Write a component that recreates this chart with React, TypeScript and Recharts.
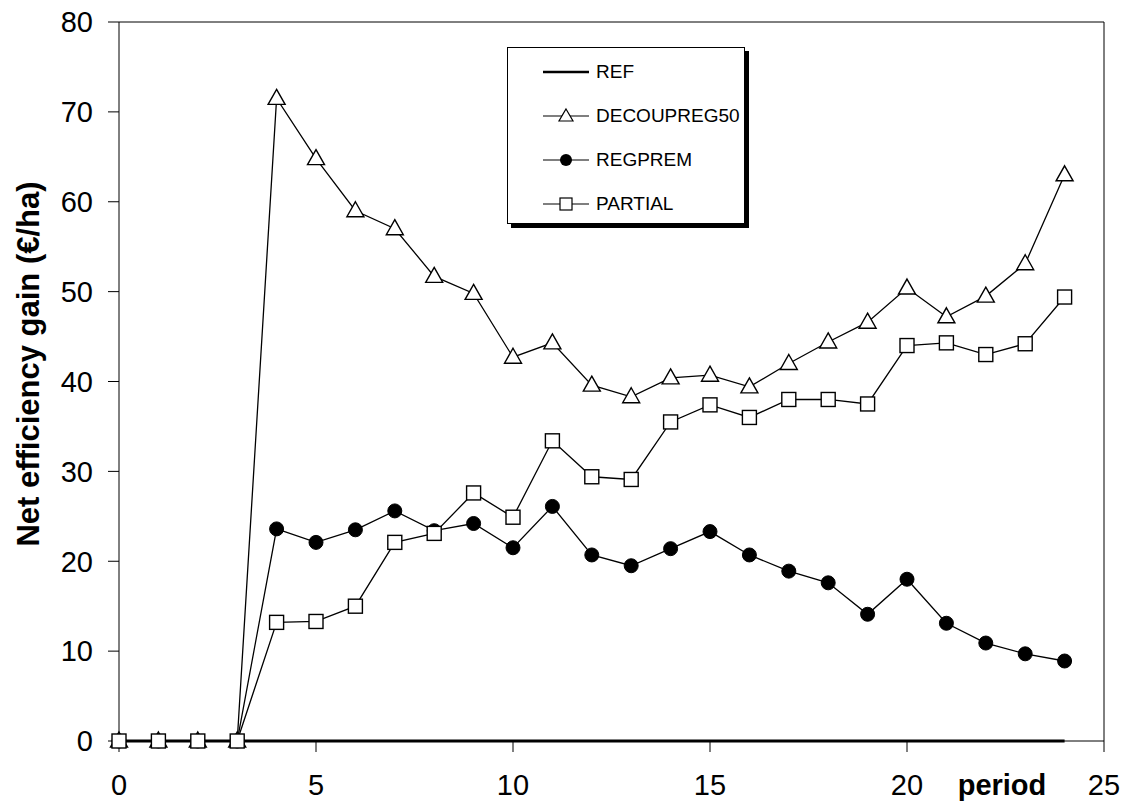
import React from 'react';
import { LineChart, Line, XAxis, YAxis, ReferenceLine } from 'recharts';

const periods = [0, 1, 2, 3, 4, 5, 6, 7, 8, 9, 10, 11, 12, 13, 14, 15, 16, 17, 18, 19, 20, 21, 22, 23, 24];
const ref = [0, 0, 0, 0, 0, 0, 0, 0, 0, 0, 0, 0, 0, 0, 0, 0, 0, 0, 0, 0, 0, 0, 0, 0, 0];
const decoupreg50 = [0, 0, 0, 0, 71.5, 64.8, 59, 57, 51.7, 49.8, 42.7, 44.3, 39.6, 38.3, 40.4, 40.7, 39.4, 42, 44.4, 46.6, 50.4, 47.2, 49.5, 53.1, 63];
const regprem = [0, 0, 0, 0, 23.6, 22.1, 23.5, 25.6, 23.4, 24.2, 21.5, 26.1, 20.7, 19.5, 21.4, 23.3, 20.7, 18.9, 17.6, 14.1, 18, 13.1, 10.9, 9.7, 8.9];
const partial = [0, 0, 0, 0, 13.2, 13.3, 15, 22.1, 23.1, 27.6, 24.9, 33.4, 29.4, 29.1, 35.5, 37.4, 36, 38, 38, 37.5, 44, 44.3, 43, 44.2, 49.4];

const xTicks = [0, 5, 10, 15, 20, 25];
const yTicks = [0, 10, 20, 30, 40, 50, 60, 70, 80];
const seriesNames = ['REF', 'DECOUPREG50', 'REGPREM', 'PARTIAL'];

const data = periods.map((p, i) => ({
  period: p,
  REF: ref[i],
  DECOUPREG50: decoupreg50[i],
  REGPREM: regprem[i],
  PARTIAL: partial[i],
}));

const FONT = '"Liberation Sans", Arial, sans-serif';

const TriangleDot = (props: any) => {
  const { cx, cy, index } = props;
  if (cx == null || cy == null) return null;
  return (
    <path
      key={`t-${index}`}
      d={`M${cx},${cy - 9}L${cx + 8.5},${cy + 6}L${cx - 8.5},${cy + 6}Z`}
      fill="#fff"
      stroke="#000"
      strokeWidth={1.4}
    />
  );
};

const CircleDot = (props: any) => {
  const { cx, cy, index } = props;
  if (cx == null || cy == null) return null;
  return <circle key={`c-${index}`} cx={cx} cy={cy} r={7} fill="#000" stroke="#000" />;
};

const SquareDot = (props: any) => {
  const { cx, cy, index } = props;
  if (cx == null || cy == null) return null;
  return (
    <rect key={`s-${index}`} x={cx - 7} y={cy - 7} width={14} height={14} fill="#fff" stroke="#000" strokeWidth={1.4} />
  );
};

// small legend icons
const LegendIcon = ({ name }: { name: string }) => (
  <svg width={46} height={20} style={{ display: 'block' }}>
    {name === 'REF' ? (
      <line x1={0} y1={10} x2={46} y2={10} stroke="#000" strokeWidth={2.5} />
    ) : (
      <line x1={0} y1={10} x2={46} y2={10} stroke="#000" strokeWidth={1.2} />
    )}
    {name === 'DECOUPREG50' && <path d="M23,3L30,15L16,15Z" fill="#fff" stroke="#000" strokeWidth={1.2} />}
    {name === 'REGPREM' && <circle cx={23} cy={10} r={6} fill="#000" />}
    {name === 'PARTIAL' && <rect x={17} y={4} width={12} height={12} fill="#fff" stroke="#000" strokeWidth={1.2} />}
  </svg>
);

const PeriodLabel = () => (
  <text x={1002} y={795} textAnchor="middle" fontFamily={FONT} fontSize={29} fontWeight="bold" fill="#000">
    period
  </text>
);

const YTitle = () => (
  <text
    x={28}
    y={364}
    transform="rotate(-90, 28, 364)"
    textAnchor="middle"
    dominantBaseline="central"
    fontFamily={FONT}
    fontSize={31}
    fontWeight="bold"
    fill="#000"
  >
    Net efficiency gain (€/ha)
  </text>
);

export default function App() {
  return (
    <div style={{ position: 'absolute', left: 0, top: 0, width: 1128, height: 804, background: '#fff' }}>
      <LineChart width={1128} height={804} data={data} margin={{ top: 22, right: 24, bottom: 0, left: 0 }}>
        <XAxis
          dataKey="period"
          type="number"
          domain={[0, 25]}
          ticks={xTicks}
          height={63}
          tickSize={11}
          tickMargin={22}
          axisLine={{ stroke: '#000', strokeWidth: 1 }}
          tickLine={{ stroke: '#000', strokeWidth: 1 }}
          tick={{ fill: '#000', fontSize: 29, fontFamily: FONT }}
          label={<PeriodLabel />}
        />
        <YAxis
          type="number"
          domain={[0, 80]}
          ticks={yTicks}
          width={119}
          tickSize={11}
          tickMargin={15}
          axisLine={{ stroke: '#000', strokeWidth: 1 }}
          tickLine={{ stroke: '#000', strokeWidth: 1 }}
          tick={{ fill: '#000', fontSize: 29, fontFamily: FONT }}
          label={<YTitle />}
        />
        <ReferenceLine y={80} stroke="#000" strokeWidth={1} />
        <ReferenceLine x={25} stroke="#000" strokeWidth={1} />
        <Line dataKey="REF" stroke="#000" strokeWidth={3} dot={false} isAnimationActive={false} />
        <Line dataKey="DECOUPREG50" stroke="#000" strokeWidth={1.3} dot={TriangleDot} isAnimationActive={false} />
        <Line dataKey="REGPREM" stroke="#000" strokeWidth={1.3} dot={CircleDot} isAnimationActive={false} />
        <Line dataKey="PARTIAL" stroke="#000" strokeWidth={1.3} dot={SquareDot} isAnimationActive={false} />
      </LineChart>
      <div
        style={{
          position: 'absolute',
          left: 507,
          top: 47,
          width: 236,
          height: 175,
          border: '1px solid #000',
          boxShadow: '4px 4px 0 #000',
          background: '#fff',
          fontFamily: FONT,
          fontSize: 19,
          color: '#000',
        }}
      >
        {seriesNames.map((name, i) => (
          <div
            key={name}
            style={{ position: 'absolute', left: 35, top: 13 + i * 44, height: 22, display: 'flex', alignItems: 'center' }}
          >
            <LegendIcon name={name} />
            <span style={{ marginLeft: 7 }}>{name}</span>
          </div>
        ))}
      </div>
    </div>
  );
}
